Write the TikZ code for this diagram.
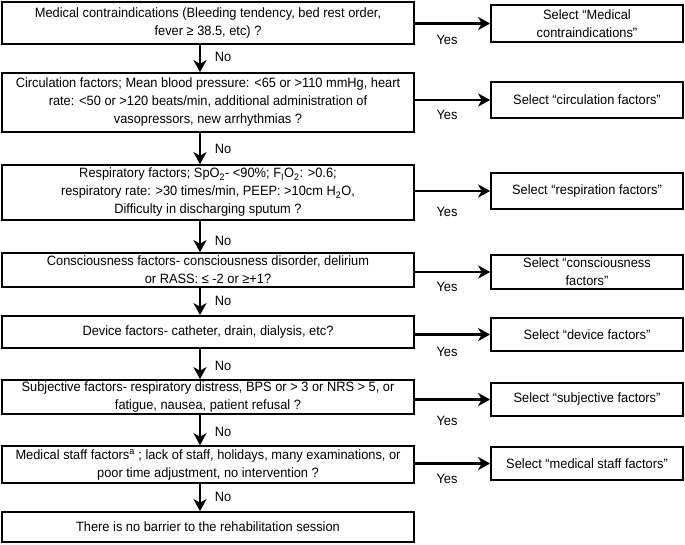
\documentclass[tikz,border=0pt]{standalone}
\usepackage{fontspec}
\setmainfont{Liberation Sans}[FakeStretch=0.95]
\usetikzlibrary{arrows.meta}
\newcommand{\flowfont}{\fontsize{13.5pt}{18pt}\selectfont}
\begin{document}
\begin{tikzpicture}[x=1pt,y=-1pt,
  lbox/.style={draw,line width=1.7pt,minimum width=412pt,inner sep=0pt,align=center,font=\flowfont},
  rbox/.style={draw,line width=1.7pt,minimum width=192pt,inner sep=0pt,align=center,font=\flowfont},
  flowarrow/.style={line width=2.8pt,-{Stealth[length=12pt,width=13pt,inset=3.5pt]}},
  lab/.style={font=\flowfont,inner sep=0pt}]
\useasboundingbox (0,0) rectangle (685,544);
% left boxes
\node[lbox,minimum height=42pt] (b1) at (208,23) {Medical contraindications (Bleeding tendency, bed rest order,\\fever ≥ 38.5, etc) ?};
\node[lbox,minimum height=59pt] (b2) at (208,102.5) {Circulation factors; Mean blood pressure: <65 or >110 mmHg, heart\\rate: <50 or >120 beats/min, additional administration of\\vasopressors, new arrhythmias ?};
\node[lbox,minimum height=55pt] (b3) at (208,192.5) {Respiratory factors; SpO\textsubscript{2}- <90\%; F\textsubscript{I}O\textsubscript{2}: >0.6;\\respiratory rate: >30 times/min, PEEP: >10cm H\textsubscript{2}O,\\Difficulty in discharging sputum ?};
\node[lbox,minimum height=34pt] (b4) at (208,270) {Consciousness factors- consciousness disorder, delirium\\or RASS: ≤ -2 or ≥+1?};
\node[lbox,minimum height=32pt] (b5) at (208,332) {Device factors- catheter, drain, dialysis, etc?};
\node[lbox,minimum height=34pt] (b6) at (208,397) {Subjective factors- respiratory distress, BPS or > 3 or NRS > 5, or\\fatigue, nausea, patient refusal ?};
\node[lbox,minimum height=37pt] (b7) at (208,464.5) {Medical staff factors\textsuperscript{a} ; lack of staff, holidays, many examinations, or\\poor time adjustment, no intervention ?};
\node[lbox,minimum height=30pt] (b8) at (208,527) {There is no barrier to the rehabilitation session};
% right boxes
\node[rbox,minimum height=37pt] (r1) at (587,23.5) {Select “Medical\\contraindications”};
\node[rbox,minimum height=36pt] (r2) at (587,100) {Select “circulation factors”};
\node[rbox,minimum height=36pt] (r3) at (587,191) {Select “respiration factors”};
\node[rbox,minimum height=34pt] (r4) at (587,272) {Select “consciousness\\factors”};
\node[rbox,minimum height=33pt] (r5) at (587,334.5) {Select “device factors”};
\node[rbox,minimum height=33pt] (r6) at (587,399.5) {Select “subjective factors”};
\node[rbox,minimum height=33pt] (r7) at (587,463.5) {Select “medical staff factors”};
% yes arrows
\foreach \i in {1,...,7}{
  \draw[flowarrow] (r\i.west -| b\i.east) -- (r\i.west);
}
\node[lab] (y1) at (447,40) {Yes};
\node[lab] (y2) at (447,115) {Yes};
\node[lab] (y3) at (447,212) {Yes};
\node[lab] (y4) at (447,287) {Yes};
\node[lab] (y5) at (447,352) {Yes};
\node[lab] (y6) at (447,421) {Yes};
\node[lab] (y7) at (447,479) {Yes};
% no arrows
\foreach \i/\j in {1/2,2/3,3/4,4/5,5/6,6/7,7/8}{
  \draw[flowarrow] ([xshift=-8pt]b\i.south) -- ([xshift=-8pt]b\j.north);
}
\node[lab] (n1) at (223,57) {No};
\node[lab] (n2) at (223,149) {No};
\node[lab] (n3) at (223,241) {No};
\node[lab] (n4) at (223,301) {No};
\node[lab] (n5) at (223,366) {No};
\node[lab] (n6) at (223,432) {No};
\node[lab] (n7) at (223,497) {No};
\end{tikzpicture}
\end{document}
